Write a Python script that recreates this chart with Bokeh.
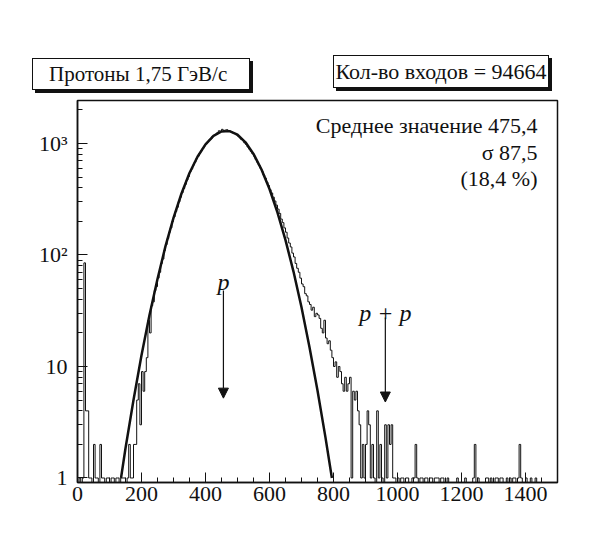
import numpy as np
from bokeh.plotting import figure
from bokeh.layouts import column
from bokeh.models import Range1d, FixedTicker, Label, Arrow, NormalHead, Div
from bokeh.embed import file_html
from bokeh.resources import INLINE

# ---------------- data ----------------
bin_width = 5
hist_start = 0
counts = [
    0, 1, 0, 1, 85, 4, 4, 1, 1, 0, 2, 1, 1, 0, 2, 1, 1, 0, 1, 1,
    0, 1, 1, 0, 1, 1, 0, 1, 1, 1,
    0, 1, 2, 1, 1, 2, 2, 5, 7, 3, 9, 6, 9, 12, 26, 20, 35, 38, 48, 52,
    62, 70, 84, 92, 110, 124, 140, 160, 175, 200,
    220, 245, 268, 300, 330, 362, 395, 430, 470, 505,
    560, 590, 640, 680, 730, 770, 820, 860, 905, 950,
    990, 1030, 1075, 1100, 1160, 1180, 1215, 1250, 1300, 1290,
    1340, 1310, 1320, 1330, 1300, 1290, 1270, 1240, 1225, 1190,
    1160, 1120, 1085, 1060, 1010, 980, 930, 890, 850, 810,
    770, 720, 680, 640, 600, 560, 520, 490, 450, 420,
    385, 360, 330, 305, 280, 258, 236, 210, 195, 175,
    160, 142, 128, 118, 104, 96, 84, 76, 70, 62,
    55, 52, 45, 43, 38, 36, 32, 34, 28, 30,
    29, 27, 22, 20, 26, 18, 16, 17, 14, 12,
    10, 11, 8, 10, 9, 7, 6, 8, 6, 7,
    8, 1, 6, 5, 6, 4, 3, 1, 2, 1,
    2, 4, 3, 1, 2, 1, 0, 4, 1, 2,
    1, 0, 3, 1, 3, 2, 3, 1, 1, 0,
    1, 0, 1, 1, 0, 1, 1, 0, 0, 1, 1, 2, 1, 0, 1, 1, 0, 1, 1, 0,
    1, 1, 0, 1, 1, 1, 0, 1, 1, 0, 0, 1, 0, 0, 0, 0, 0, 1, 0, 0,
    0, 0, 1, 0, 0, 0, 0, 1, 2, 0, 1, 0, 0, 0, 0, 1, 1, 0, 1, 0,
    0, 1, 1, 0, 1, 1, 0, 0, 1, 0, 1, 0, 1, 1, 0, 1, 2, 1, 0, 0,
    1, 0, 0, 1, 0, 0, 1, 0, 0, 0, 0, 0, 0, 0, 0, 0, 0, 0, 0, 0,
]

fit_x = [136, 150, 175, 200, 225, 250, 275, 300, 325, 350, 375, 400, 425, 450,
         475, 500, 525, 550, 575, 600, 625, 650, 675, 700, 725, 750, 775, 795]
fit_y = [1.0, 1.85, 5.0, 12.6, 29, 61, 120, 215, 356, 543, 761, 983, 1170, 1281,
         1291, 1199, 1025, 806, 585, 390, 240, 136, 71, 34, 14.9, 6.1, 2.3, 1.0]

x_ticks = [0, 200, 400, 600, 800, 1000, 1200, 1400]
y_ticks = [1, 10, 100, 1000]
y_tick_labels = ["1", "10", "10²", "10³"]

title_text = "Протоны 1,75 ГэВ/с"
entries_text = "Кол-во входов = 94664"
stats_lines = ["Среднее значение 475,4", "σ 87,5", "(18,4 %)"]

arrow_p = dict(label="p", x=456, y_top=48, y_tip=5.2, y_label=57)
arrow_pp = dict(label="p + p", x=962, y_top=27.5, y_tip=4.8, y_label=30)

# ---------------- styling ----------------
FONT = "Liberation Serif"
INK = "#111111"
TOP_H = 98

# ---------------- header strip with the two boxed captions ----------------
def box_html(text, left, top, width, height, pad_left, justify, size):
    return (
        f'<div style="position:absolute; left:{left}px; top:{top}px; width:{width}px; '
        f'height:{height}px; box-sizing:border-box; border:1.3px solid {INK}; '
        f'background:white; box-shadow:3px 3px 0 {INK}; display:flex; align-items:center; '
        f'justify-content:{justify}; padding-left:{pad_left}px; '
        f"font-family:'{FONT}', serif; font-size:{size}px; color:{INK}; "
        f'white-space:nowrap; line-height:1;">{text}</div>'
    )

header_html = (
    f'<div style="position:relative; width:596px; height:{TOP_H}px; margin:0; padding:0;">'
    + box_html(title_text, 32, 58, 218, 32, 16, "flex-start", 21)
    + box_html(entries_text, 333, 55, 216, 33, 0, "center", 22)
    + '</div>'
)
header = Div(text=header_html, width=596, height=TOP_H,
             styles={"margin": "0", "padding": "0", "background": "white"})

# ---------------- main histogram plot ----------------
p = figure(width=596, height=534 - TOP_H, x_range=Range1d(0, 1500),
           y_range=Range1d(0.911, 2430), y_axis_type="log",
           output_backend="svg", toolbar_location=None,
           min_border_left=77, min_border_right=39,
           min_border_top=2, min_border_bottom=52)
p.background_fill_color = "white"
p.border_fill_color = "white"
p.outline_line_color = INK
p.outline_line_width = 1.5
p.xgrid.visible = False
p.ygrid.visible = False

p.xaxis.ticker = FixedTicker(ticks=x_ticks, minor_ticks=list(range(0, 1501, 50)))
p.yaxis.ticker = FixedTicker(
    ticks=y_ticks,
    minor_ticks=[m * d for d in (1, 10, 100) for m in range(2, 10)] + [2000])
p.yaxis.major_label_overrides = {t: s for t, s in zip(y_ticks, y_tick_labels)}

for ax in (p.xaxis[0], p.yaxis[0]):
    ax.major_tick_in = 10
    ax.major_tick_out = 0
    ax.minor_tick_in = 5
    ax.minor_tick_out = 0
    ax.axis_line_color = INK
    ax.axis_line_width = 1.5
    ax.major_tick_line_color = INK
    ax.minor_tick_line_color = INK
    ax.major_label_text_font = FONT
    ax.major_label_text_font_size = "22px"
    ax.major_label_text_color = INK
p.xaxis.major_label_standoff = 4
p.yaxis.major_label_standoff = 10

# histogram as a step outline
counts_arr = np.array(counts, dtype=float)
plot_counts = np.where(counts_arr > 0, counts_arr, 0.5)
edges = hist_start + bin_width * np.arange(len(counts) + 1)
hx = np.concatenate([[edges[0]], np.repeat(edges, 2)[1:-1], [edges[-1]]])
hy = np.concatenate([[0.5], np.repeat(plot_counts, 2), [0.5]])
p.line(hx, hy, line_color=INK, line_width=1)

# gaussian fit
p.line(fit_x, fit_y, line_color=INK, line_width=2.5)

# arrows
for a in (arrow_p, arrow_pp):
    p.add_layout(Arrow(end=NormalHead(size=10, fill_color=INK, line_color=INK),
                       x_start=a["x"], y_start=a["y_top"], x_end=a["x"], y_end=a["y_tip"],
                       line_color=INK, line_width=1.2))
    p.add_layout(Label(x=a["x"], y=a["y_label"], text=a["label"], text_font=FONT,
                       text_font_style="italic", text_font_size="24px",
                       text_align="center", text_baseline="alphabetic", text_color=INK))

for i, line in enumerate(stats_lines):
    p.add_layout(Label(x=460, y=357 - 26.5 * i, x_units="screen", y_units="screen",
                       text=line, text_font=FONT, text_font_size="22px",
                       text_align="right", text_baseline="middle", text_color=INK))

layout = column(header, p, spacing=0)
open("out.html", "w").write(file_html(layout, INLINE))
